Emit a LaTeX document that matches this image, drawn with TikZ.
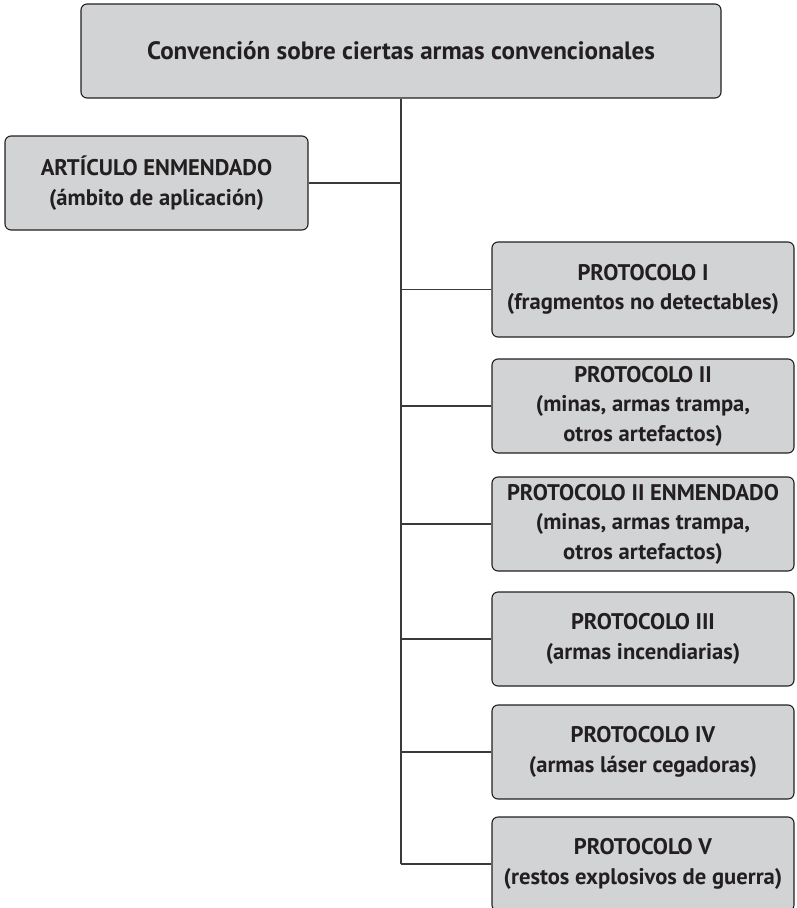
\documentclass[tikz,border=0pt]{standalone}
\usepackage{fontspec}
\setmainfont{PT Sans}
\definecolor{boxfill}{HTML}{D1D3D4}
\definecolor{ink}{HTML}{231F20}
\definecolor{wire}{HTML}{3A3A3A}
\begin{document}
\begin{tikzpicture}[x=1pt,y=-1pt,
  box/.style={draw=ink, line width=1.1pt, fill=boxfill, rounded corners=6pt,
    align=center, inner sep=0pt, text=ink,
    font=\fontsize{22.6}{29.5}\selectfont\bfseries},
  wirestyle/.style={draw=wire, line width=1.3pt}]
\useasboundingbox (0,0) rectangle (796,908);
\node[box, minimum width=640pt, minimum height=94pt,
  font=\fontsize{25.1}{29.5}\selectfont\bfseries] (top) at (401,51)
  {Convención sobre ciertas armas convencionales};
\node[box, minimum width=303pt, minimum height=94pt] (art) at (156.5,183)
  {ARTÍCULO ENMENDADO\\(ámbito de aplicación)};
\node[box, minimum width=302pt, minimum height=95pt] (p1) at (643,289.5)
  {PROTOCOLO I\\(fragmentos no detectables)};
\node[box, minimum width=302pt, minimum height=94pt] (p2) at (643,406)
  {PROTOCOLO II\\(minas, armas trampa,\\otros artefactos)};
\node[box, minimum width=302pt, minimum height=94pt] (p2e) at (643,524)
  {PROTOCOLO II ENMENDADO\\(minas, armas trampa,\\otros artefactos)};
\node[box, minimum width=302pt, minimum height=94pt] (p3) at (643,639)
  {PROTOCOLO III\\(armas incendiarias)};
\node[box, minimum width=302pt, minimum height=94pt] (p4) at (643,752)
  {PROTOCOLO IV\\(armas láser cegadoras)};
\node[box, minimum width=302pt, minimum height=94pt] (p5) at (643,864)
  {PROTOCOLO V\\(restos explosivos de guerra)};
\coordinate (trunkend) at (top.south |- p5.west);
\draw[wirestyle] (top.south) -- (trunkend);
\draw[wirestyle] (art.east) -- (art.east -| top.south);
\foreach \n in {p1,p2,p2e,p3,p4,p5}
  \draw[wirestyle] (\n.west) -- (\n.west -| top.south);
\end{tikzpicture}
\end{document}
